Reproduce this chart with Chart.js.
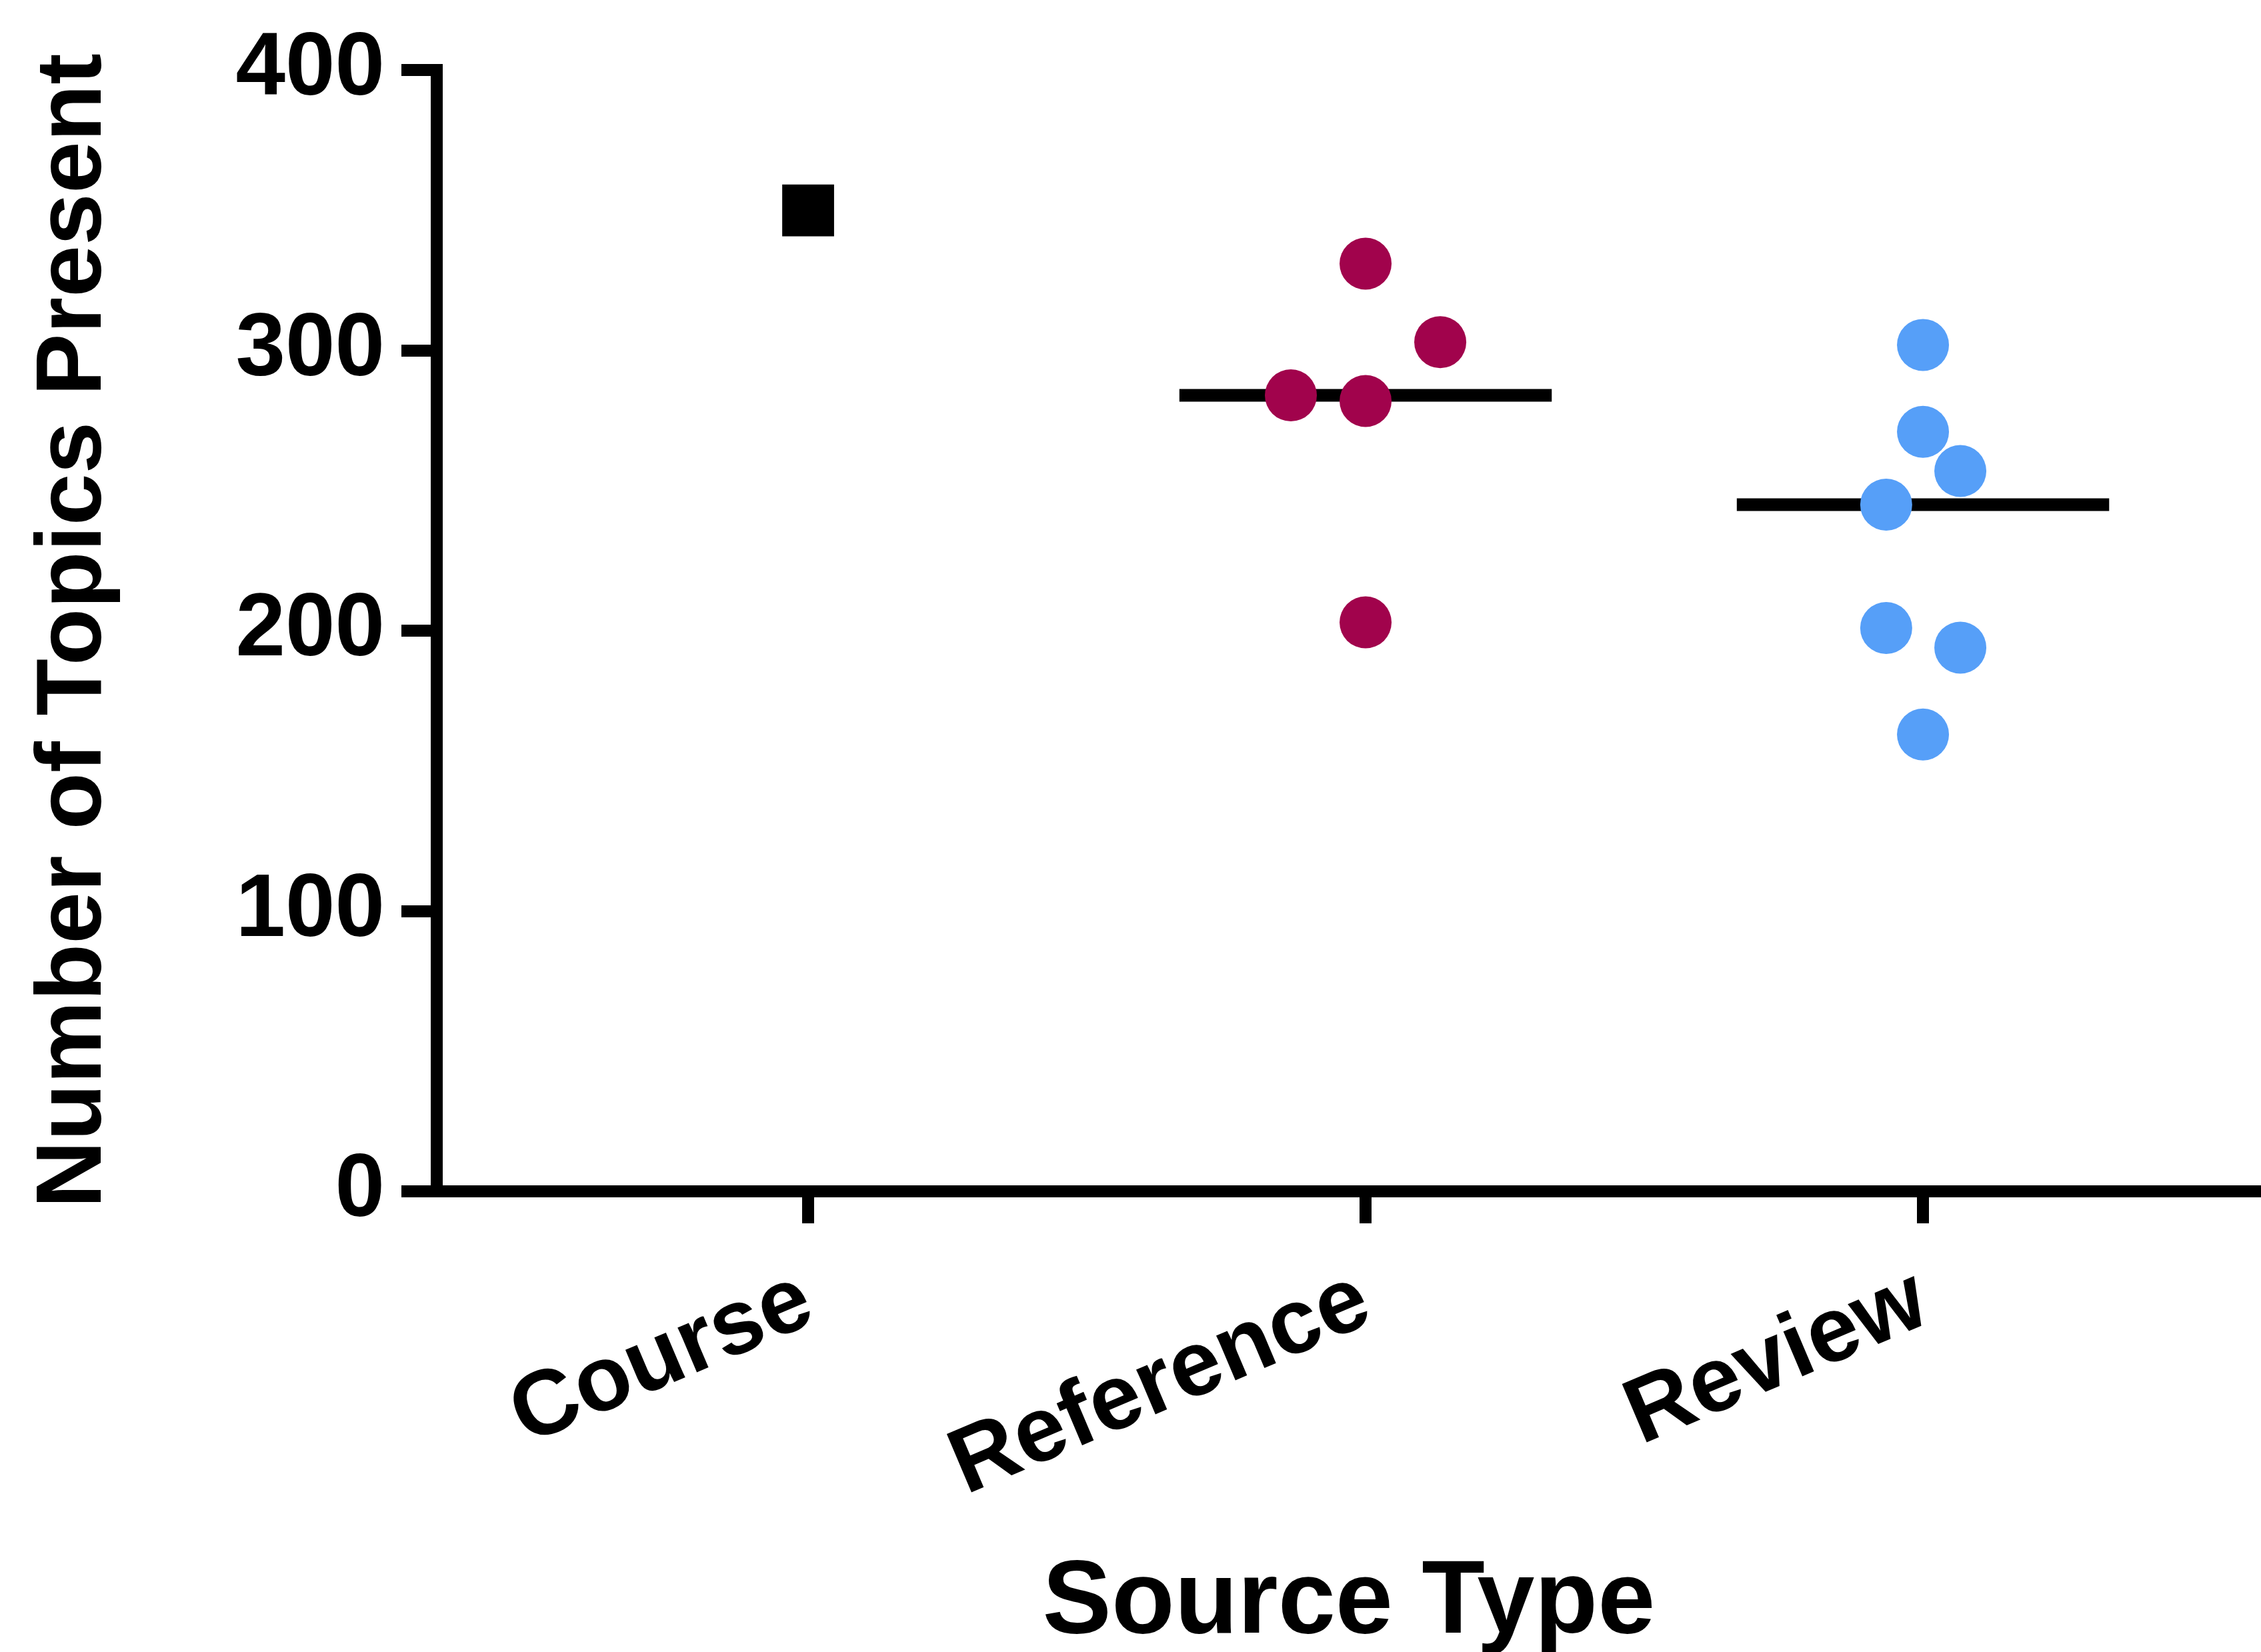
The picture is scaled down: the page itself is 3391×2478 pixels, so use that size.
<!DOCTYPE html>
<html>
<head>
<meta charset="utf-8">
<script src="https://cdn.jsdelivr.net/npm/chart.js@4"></script>
<style>
  html, body { margin: 0; padding: 0; background: #fff; overflow: hidden; }
  canvas { display: block; }
</style>
</head>
<body>
<canvas id="chart" width="3391" height="2478"></canvas>
<script>
// ---------- data ----------
const categories = ['Course', 'Reference', 'Review'];
const courseValues = [350];
const referenceValues = [331, 303, 284, 282, 203];
const reviewValues = [302, 271, 257, 245, 201, 194, 163];
const medianValues = [284, 245];          // Reference, Review
const yTicks = [0, 100, 200, 300, 400];

// ---------- layout (scatter jitter, not data) ----------
const referenceJitter = [0, 0.134, -0.134, 0, 0];
const reviewJitter = [0, 0, 0.067, -0.066, -0.066, 0.067, 0];
const medianHalfWidth = 0.334;

const FONT = '"Liberation Sans", Arial, Helvetica, sans-serif';
const AXIS_W = 18;

function points(values, catIndex, jitter) {
  return values.map((v, i) => ({ x: catIndex + 1 + (jitter ? jitter[i] : 0), y: v }));
}
function medianLine(value, catIndex) {
  return [
    { x: catIndex + 1 - medianHalfWidth, y: value },
    { x: catIndex + 1 + medianHalfWidth, y: value }
  ];
}

const axisGrid = (len) => ({
  display: true,
  drawOnChartArea: false,
  drawTicks: true,
  tickLength: len,
  tickWidth: AXIS_W,
  tickColor: '#000',
  color: '#000',
  lineWidth: AXIS_W
});

new Chart(document.getElementById('chart'), {
  type: 'scatter',
  data: {
    datasets: [
      {
        label: 'Course',
        data: points(courseValues, 0),
        pointStyle: 'rect',
        pointRadius: 55,
        backgroundColor: '#000',
        borderWidth: 0,
        order: 1
      },
      {
        label: 'Reference',
        data: points(referenceValues, 1, referenceJitter),
        pointStyle: 'circle',
        pointRadius: 39,
        backgroundColor: '#A1034C',
        borderWidth: 0,
        order: 1
      },
      {
        label: 'Review',
        data: points(reviewValues, 2, reviewJitter),
        pointStyle: 'circle',
        pointRadius: 39,
        backgroundColor: '#569FF8',
        borderWidth: 0,
        order: 1
      },
      {
        type: 'line',
        label: 'Reference median',
        data: medianLine(medianValues[0], 1),
        borderColor: '#000',
        borderWidth: 19,
        pointRadius: 0,
        order: 2
      },
      {
        type: 'line',
        label: 'Review median',
        data: medianLine(medianValues[1], 2),
        borderColor: '#000',
        borderWidth: 19,
        pointRadius: 0,
        order: 2
      }
    ]
  },
  options: {
    responsive: false,
    devicePixelRatio: 1,
    animation: false,
    layout: { autoPadding: false, padding: { top: 101, right: 0, bottom: 0, left: 0 } },
    plugins: {
      legend: { display: false },
      tooltip: { enabled: false }
    },
    scales: {
      x: {
        type: 'linear',
        position: 'bottom',
        min: 0.3337,
        max: 3.6064,
        afterBuildTicks: (scale) => { scale.ticks = categories.map((c, i) => ({ value: i + 1 })); },
        afterFit: (scale) => {
          scale.height = 691;
          scale.paddingLeft = 0;
          scale.paddingRight = 0;
        },
        grid: axisGrid(48),
        border: { display: true, color: '#000', width: AXIS_W },
        ticks: {
          autoSkip: false,
          minRotation: 23,
          maxRotation: 23,
          padding: 35,
          color: '#000',
          font: { family: FONT, size: 138, weight: 'bold' },
          callback: (v) => categories[Math.round(v) - 1] || ''
        },
        title: {
          display: true,
          text: 'Source Type',
          color: '#000',
          font: { family: FONT, size: 155, weight: 'bold', lineHeight: 1 },
          padding: { top: 0, bottom: -6 }
        }
      },
      y: {
        type: 'linear',
        min: 0,
        max: 400,
        afterBuildTicks: (scale) => { scale.ticks = yTicks.map(v => ({ value: v })); },
        afterFit: (scale) => { scale.width = 655; },
        grid: axisGrid(53),
        border: { display: true, color: '#000', width: AXIS_W },
        ticks: {
          padding: 25,
          color: '#000',
          font: { family: FONT, size: 134, weight: 'bold' }
        },
        title: {
          display: true,
          text: 'Number of Topics Present',
          color: '#000',
          font: { family: FONT, size: 140, weight: 'bold', lineHeight: 1 },
          padding: { top: 42, bottom: 0 }
        }
      }
    }
  }
});
</script>
</body>
</html>
